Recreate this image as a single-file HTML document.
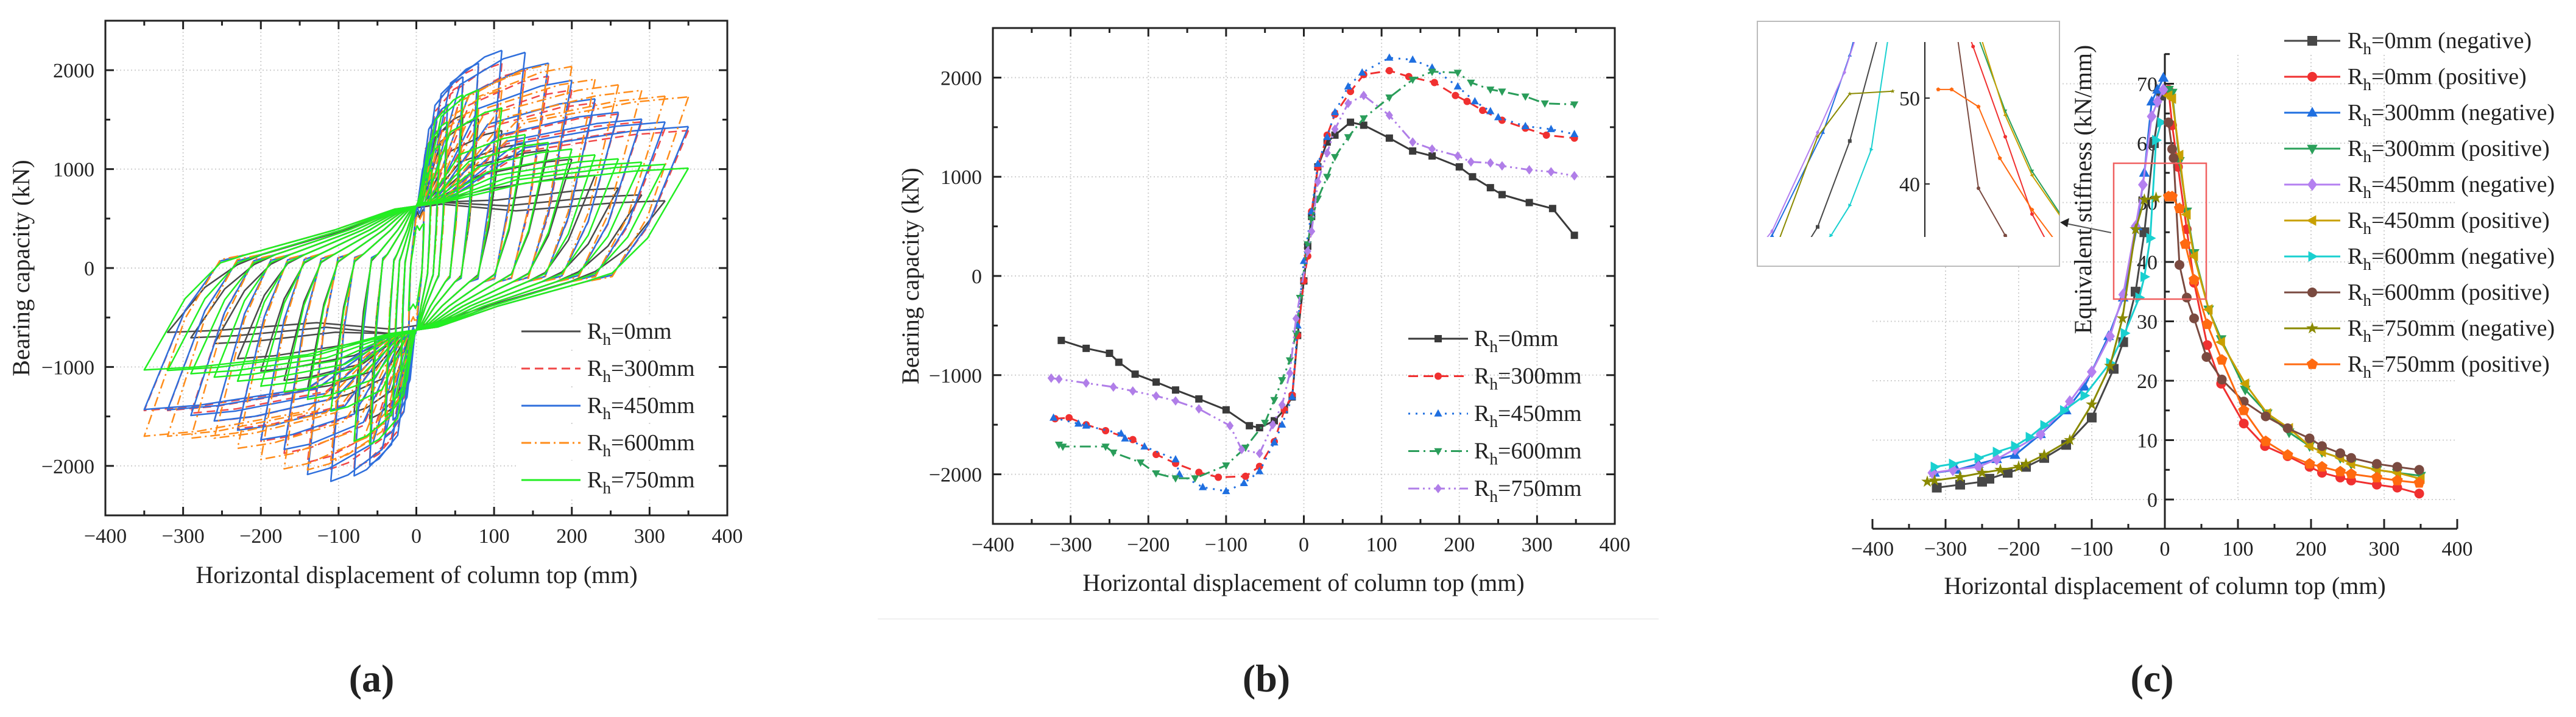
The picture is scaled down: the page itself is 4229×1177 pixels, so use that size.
<!DOCTYPE html>
<html><head><meta charset="utf-8">
<style>
html,body{margin:0;padding:0;background:#fff;}
svg{display:block;font-family:"Liberation Serif",serif;}
</style></head>
<body>
<svg id="fig" width="4229" height="1177" viewBox="0 0 4229 1177" xmlns="http://www.w3.org/2000/svg">
<rect x="0" y="0" width="4229" height="1177" fill="#fff"/>
<g id="pa"></g>
<g id="pb"></g>
<g id="pc"></g>
</svg>
<script>
// ---------- DATA: panel b skeleton curves ----------
const b0x=[-312,-280,-250,-238,-217,-190,-165,-135,-100,-70,-57,-38,-25,-15,-8,0,5,10,18,30,40,60,77,110,140,165,200,217,240,255,290,320,348];
const b0y=[-650,-730,-780,-870,-990,-1070,-1150,-1240,-1350,-1510,-1530,-1460,-1350,-1220,-600,-50,300,600,1100,1350,1420,1550,1520,1390,1260,1210,1100,1000,890,820,740,680,410];
const b300x=[-320,-302,-280,-255,-220,-190,-165,-135,-110,-75,-57,-38,-25,-15,-8,0,5,10,18,30,40,60,77,110,135,168,195,210,230,255,285,312,348];
const b300y=[-1440,-1430,-1500,-1560,-1650,-1800,-1890,-1980,-2030,-2020,-1920,-1670,-1350,-1200,-600,-50,200,650,1100,1420,1630,1860,2030,2070,2010,1950,1820,1760,1670,1570,1490,1420,1390];
const b450x=[-322,-290,-280,-235,-230,-205,-165,-160,-130,-100,-77,-57,-38,-28,-15,-8,0,10,18,30,40,57,75,110,140,165,198,220,240,250,285,318,348];
const b450y=[-1430,-1490,-1510,-1590,-1640,-1720,-1850,-2000,-2130,-2170,-2090,-1970,-1680,-1500,-1220,-500,150,650,1130,1400,1650,1910,2050,2200,2180,2100,1910,1760,1660,1600,1510,1480,1430];
const b600x=[-315,-310,-255,-245,-210,-190,-165,-140,-100,-75,-50,-38,-28,-18,-10,-5,5,10,18,30,40,57,77,110,140,165,198,215,240,255,285,310,348];
const b600y=[-1700,-1720,-1720,-1780,-1880,-1990,-2040,-2040,-1910,-1730,-1480,-1250,-1050,-850,-580,-220,320,570,780,1000,1200,1400,1590,1800,1980,2060,2050,1950,1880,1860,1810,1740,1730];
const b750x=[-325,-315,-280,-245,-220,-190,-165,-135,-95,-80,-57,-40,-28,-18,-10,5,10,18,30,40,57,77,110,140,165,198,215,240,255,290,318,348];
const b750y=[-1030,-1040,-1080,-1120,-1160,-1210,-1260,-1340,-1510,-1750,-1790,-1500,-1300,-980,-430,250,450,950,1240,1480,1740,1820,1620,1350,1280,1210,1150,1140,1110,1070,1050,1010];
const xTicks=[-400,-300,-200,-100,0,100,200,300,400];
const yTicksAB=[-2000,-1000,0,1000,2000];
const legendLabels=["0mm","300mm","450mm","600mm","750mm"];
// ---------- DATA: panel a cycle amplitudes ----------
const aAmps=[10,20,30,40,60,80,110,140,170,200,230,260,290,320,350];
// ---------- DATA: panel c stiffness ----------
const c0nx=[-312,-280,-250,-240,-215,-190,-165,-135,-100,-70,-57,-40,-28,-15,-5];
const c0ny=[2,2.5,3,3.5,4.5,5.5,7,9.2,13.8,22,26.5,35,45,60,68];
const c0px=[5,10,18,30,40,58,77,108,137,168,198,215,240,255,290,318,348];
const c0py=[69,63,56,45.5,36.5,26,19.5,12.8,9,7.3,5.5,4.5,3.7,3.2,2.5,2,1];
const c300nx=[-315,-285,-255,-230,-205,-170,-135,-110,-77,-57,-38,-28,-18,-10,-2];
const c300ny=[4.5,5,6,6.8,7.5,11,15,19,27.5,34,46,55,67,69,71];
const c300px=[5,10,20,30,40,60,77,110,140,170,198,215,240,255,290,318,350];
const c300py=[69,68.5,57,48.5,41.5,32,27,18.5,14.5,11.3,9,8,7,6,5,4.5,4];
const c450nx=[-318,-290,-255,-230,-205,-170,-130,-100,-75,-57,-40,-30,-18,-10,-2];
const c450ny=[4.5,5,5.5,6.8,8.5,11,16.5,21.5,27.5,34.5,46,53,64.5,67,69];
const c450px=[5,10,20,30,40,60,77,110,140,170,198,215,240,255,290,318,350];
const c450py=[68,67.5,58,48,41,32,26.5,19.5,14.5,12,9,8,7,6,5,4.5,3.5];
const c600nx=[-315,-290,-255,-230,-205,-185,-165,-138,-110,-75,-55,-35,-28,-20,-12,-5];
const c600ny=[5.5,6,7,8,9,10.5,12.5,15,17.5,23,28,34,37.5,44,60.5,63.5];
const c600px=[5,10,12,20,30,40,57,78,108,138,168,198,215,240,255,290,318,348];
const c600py=[63.5,59,57.5,39.5,34,30.5,24,20.2,16.5,14,12,10.3,9,7.8,7,6,5.5,5];
const c750nx=[-325,-315,-280,-250,-225,-200,-190,-165,-130,-100,-75,-58,-40,-28,-12];
const c750ny=[3,3.2,3.8,4.5,5,5.5,6,7.5,10,16,22.5,30.5,45.5,50.5,50.8];
const c750px=[5,10,20,28,40,58,78,108,138,168,198,215,240,255,290,318,348];
const c750py=[51,51,49,43,37,29.5,23.5,15,9.8,7.5,6,5.5,4.7,4.3,3.7,3.2,2.8];
const cYTicks=[0,10,20,30,40,50,60,70];
const cLegend=["0mm (negative)","0mm (positive)","300mm (negative)","300mm (positive)","450mm (negative)","450mm (positive)","600mm (negative)","600mm (positive)","750mm (negative)","750mm (positive)"];

const NS="http://www.w3.org/2000/svg";
function mk(parent,tag,attrs){const e=document.createElementNS(NS,tag);for(const k in attrs)e.setAttribute(k,attrs[k]);parent.appendChild(e);return e;}
function txt(parent,x,y,s,size,anchor,extra){const t=mk(parent,"text",Object.assign({x:x,y:y,"font-size":size,"text-anchor":anchor||"middle",fill:"#222"},extra||{}));t.textContent=s;return t;}
function rhText(parent,x,y,rest,size){
  const t=mk(parent,"text",{x:x,y:y,"font-size":size,fill:"#222"});
  const a=mk(t,"tspan",{});a.textContent="R";
  const b=mk(t,"tspan",{dy:10,"font-size":size*0.72});b.textContent="h";
  const c=mk(t,"tspan",{dy:-10});c.textContent="="+rest;
  return t;
}
function marker(g,type,x,y,r,color){
  let e;
  if(type==="sq") e=mk(g,"rect",{x:x-r,y:y-r,width:2*r,height:2*r,fill:color});
  else if(type==="ci") e=mk(g,"circle",{cx:x,cy:y,r:r,fill:color});
  else if(type==="tu") e=mk(g,"polygon",{points:`${x},${y-r*1.2} ${x-r*1.1},${y+r*0.8} ${x+r*1.1},${y+r*0.8}`,fill:color});
  else if(type==="td") e=mk(g,"polygon",{points:`${x},${y+r*1.2} ${x-r*1.1},${y-r*0.8} ${x+r*1.1},${y-r*0.8}`,fill:color});
  else if(type==="tl") e=mk(g,"polygon",{points:`${x-r*1.2},${y} ${x+r*0.8},${y-r*1.1} ${x+r*0.8},${y+r*1.1}`,fill:color});
  else if(type==="tr") e=mk(g,"polygon",{points:`${x+r*1.2},${y} ${x-r*0.8},${y-r*1.1} ${x-r*0.8},${y+r*1.1}`,fill:color});
  else if(type==="di") e=mk(g,"polygon",{points:`${x},${y-r*1.3} ${x+r},${y} ${x},${y+r*1.3} ${x-r},${y}`,fill:color});
  else if(type==="st"){let p=[];for(let i=0;i<10;i++){const a=-Math.PI/2+i*Math.PI/5,rr=i%2?r*0.5:r*1.3;p.push((x+rr*Math.cos(a)).toFixed(1)+","+(y+rr*Math.sin(a)).toFixed(1));}e=mk(g,"polygon",{points:p.join(" "),fill:color});}
  else if(type==="pe"){let p=[];for(let i=0;i<5;i++){const a=-Math.PI/2+i*2*Math.PI/5;p.push((x+r*1.2*Math.cos(a)).toFixed(1)+","+(y+r*1.2*Math.sin(a)).toFixed(1));}e=mk(g,"polygon",{points:p.join(" "),fill:color});}
  
  
  return e;
}
function series(g,xs,ys,sx,sy,color,dash,mtype,r,w,name){
  const sg=mk(g,"g",{});
  
  
  const pts=xs.map((x,i)=>sx(x).toFixed(1)+","+sy(ys[i]).toFixed(1)).join(" ");
  const pl=mk(sg,"polyline",{points:pts,fill:"none",stroke:color,"stroke-width":w,"stroke-dasharray":dash||"none","stroke-linejoin":"round"});
  
  
  if(mtype) xs.forEach((x,i)=>marker(sg,mtype,sx(x),sy(ys[i]),r,color));
}
function interp(xs,ys,x){
  if(x<=xs[0])return ys[0]; if(x>=xs[xs.length-1])return ys[ys.length-1];
  for(let i=1;i<xs.length;i++) if(x<=xs[i]){const t=(x-xs[i-1])/(xs[i]-xs[i-1]);return ys[i-1]+t*(ys[i]-ys[i-1]);}
}
function boxAxes(g,L,T,R,B,sx,sy,prefix){
  const grid=mk(g,"g",{});
  
  
  xTicks.forEach(v=>{if(v>-400&&v<400) mk(grid,"line",{x1:sx(v),x2:sx(v),y1:T,y2:B,stroke:"#cfcfcf","stroke-width":2,"stroke-dasharray":"2,4"});});
  yTicksAB.forEach(v=>mk(grid,"line",{x1:L,x2:R,y1:sy(v),y2:sy(v),stroke:"#cfcfcf","stroke-width":2,"stroke-dasharray":"2,4"}));
  const fr=mk(g,"rect",{x:L,y:T,width:R-L,height:B-T,fill:"none",stroke:"#222","stroke-width":3});
  
  
  const tk=mk(g,"g",{stroke:"#222","stroke-width":3});
  for(let v=-400;v<=400;v+=50){const len=v%100===0?14:8;const x=sx(v);
    mk(tk,"line",{x1:x,x2:x,y1:B,y2:B-len});mk(tk,"line",{x1:x,x2:x,y1:T,y2:T+len});}
  for(let v=-2500;v<=2500;v+=500){const len=v%1000===0?14:8;const y=sy(v);
    mk(tk,"line",{x1:L,x2:L+len,y1:y,y2:y});mk(tk,"line",{x1:R,x2:R-len,y1:y,y2:y});}
  const xl=mk(g,"g",{});
  
  
  xTicks.forEach(v=>txt(xl,sx(v),B+45,(v<0?"\u2212":"")+Math.abs(v),34));
  const yl=mk(g,"g",{});
  
  
  yTicksAB.forEach(v=>txt(yl,L-18,sy(v)+12,(v<0?"\u2212":"")+Math.abs(v),34,"end"));
}

// ---------- Panel A ----------
(function(){
  const g=document.getElementById("pa");
  const L=173,R=1194,T=34,B=846;
  const sx=v=>L+(v+400)/800*(R-L), sy=v=>T+(2500-v)/5000*(B-T);
  boxAxes(g,L,T,R,B,sx,sy,"panel-a");
  const defs=[[b0x,b0y,"#4a4a4a","none",320,"hysteresis-rh0"],[b300x,b300y,"#f04848","14,8",350,"hysteresis-rh300"],[b450x,b450y,"#2f6fdc","none",350,"hysteresis-rh450"],[b600x,b600y,"#ff8c1a","16,6,3,6",350,"hysteresis-rh600"],[b750x,b750y,"#22ee22","none",350,"hysteresis-rh750"]];
  defs.forEach(d=>{
    const [xs,ys,col,dash,amax,name]=d;
    const sg=mk(g,"g",{});
    
    
    aAmps.filter(a=>a<=amax).forEach(A=>{
      const Fp=interp(xs,ys,A), Fn=interp(xs,ys,-A);
      const P=Math.min(Fp,700), N=Math.max(Fn,-700);
      const p=[[A,Fp],[0.85*A,0.3*Fp],[0.72*A,-0.05*Fp],[0.62*A,-0.2*P],[0.3*A,-0.55*P],[0.08*A,N*0.85],
               [-0.1*A,N*0.95],[-0.4*A,Fn*0.85],[-0.8*A,Fn*0.97],[-A,Fn],
               [-0.85*A,0.3*Fn],[-0.72*A,-0.05*Fn],[-0.62*A,0.2*P],[-0.3*A,0.55*P],[-0.08*A,P*0.85],
               [0.1*A,P*0.95],[0.4*A,Fp*0.85],[0.8*A,Fp*0.97],[A,Fp]];
      let dstr="M"+sx(p[0][0]).toFixed(1)+","+sy(p[0][1]).toFixed(1);
      for(let i=1;i<p.length;i++) dstr+=" L"+sx(p[i][0]).toFixed(1)+","+sy(p[i][1]).toFixed(1);
      const e=mk(sg,"path",{d:dstr,fill:"none",stroke:col,"stroke-width":2.5,"stroke-dasharray":dash,"stroke-linejoin":"round"});
      
      
    });
  });
  const lg=mk(g,"g",{});
  
  
  const cols=["#4a4a4a","#f04848","#2f6fdc","#ff8c1a","#22ee22"],dashes=["none","14,8","none","16,6,3,6","none"];
  legendLabels.forEach((s,i)=>{const y=544+i*61;
    mk(lg,"rect",{x:850,y:y-28,width:330,height:56,fill:"#fff"});
    mk(lg,"line",{x1:856,x2:953,y1:y,y2:y,stroke:cols[i],"stroke-width":3,"stroke-dasharray":dashes[i]});
    rhText(lg,964,y+12,s,38);});
  const yt=txt(g,0,0,"Bearing capacity (kN)",40,"middle",{transform:"translate(48,440) rotate(-90)"});
  
  const xt=txt(g,684,957,"Horizontal displacement of column top (mm)",40);
  
  const cap=txt(g,610,1135,"(a)",64,"middle",{"font-weight":"bold"});
  
})();

// ---------- Panel B ----------
(function(){
  const g=document.getElementById("pb");
  const L=1630,R=2651,T=46,B=860;
  const sx=v=>L+(v+400)/800*(R-L), sy=v=>T+(2500-v)/5000*(B-T);
  boxAxes(g,L,T,R,B,sx,sy,"panel-b");
  const cols=["#3a3a3a","#f03030","#1f6fe0","#2a9d5a","#b07ee8"];
  const dashes=["none","16,9","3,9","18,7,3,7","18,6,3,6,3,6"];
  const mks=["sq","ci","tu","td","di"];
  const sets=[[b0x,b0y],[b300x,b300y],[b450x,b450y],[b600x,b600y],[b750x,b750y]];
  sets.forEach((s,i)=>series(g,s[0],s[1],sx,sy,cols[i],dashes[i],mks[i],6,3,"skeleton-rh"+legendLabels[i].replace("mm","")));
  const lg=mk(g,"g",{});
  
  
  legendLabels.forEach((s,i)=>{const y=556+i*61.5;
    mk(lg,"line",{x1:2312,x2:2410,y1:y,y2:y,stroke:cols[i],"stroke-width":3,"stroke-dasharray":dashes[i]});
    marker(lg,mks[i],2361,y,6,cols[i]);
    rhText(lg,2420,y+12,s,38);});
  mk(g,"line",{x1:1441,x2:2723,y1:1016,y2:1016,stroke:"#f0f0f0","stroke-width":2});
  const yt=txt(g,0,0,"Bearing capacity (kN)",40,"middle",{transform:"translate(1508,453) rotate(-90)"});
  
  const xt=txt(g,2140,970,"Horizontal displacement of column top (mm)",40);
  
  const cap=txt(g,2079,1135,"(b)",64,"middle",{"font-weight":"bold"});
  
})();

// ---------- Panel C ----------
(function(){
  const g=document.getElementById("pc");
  const X0=3554, PX=1.2;
  const sx=v=>X0+v*PX, sy=v=>820-v*9.75;
  const grid=mk(g,"g",{stroke:"#d0d0d0","stroke-width":2,"stroke-dasharray":"2,4"});
  
  
  cYTicks.forEach(v=>mk(grid,"line",{x1:sx(-400),x2:sx(400),y1:sy(v),y2:sy(v)}));
  xTicks.forEach(v=>{if(v!==0&&v>-400&&v<400)mk(grid,"line",{x1:sx(v),x2:sx(v),y1:90,y2:sy(0)});});
  const ax=mk(g,"g",{stroke:"#222","stroke-width":3});
  
  
  mk(ax,"line",{x1:sx(-400),x2:sx(400),y1:868,y2:868});
  mk(ax,"line",{x1:X0,x2:X0,y1:88,y2:868});
  for(let v=-400;v<=400;v+=50){const len=v%100===0?16:8;mk(ax,"line",{x1:sx(v),x2:sx(v),y1:868,y2:868-len});}
  for(let v=0;v<=75;v+=5){const len=v%10===0?15:8;mk(ax,"line",{x1:X0,x2:X0+len,y1:sy(v),y2:sy(v)});}
  const xl=mk(g,"g",{});
  
  
  xTicks.forEach(v=>txt(xl,sx(v),912,(v<0?"\u2212":"")+Math.abs(v),34));
  const yl=mk(g,"g",{});
  
  
  cYTicks.forEach(v=>txt(yl,X0-12,sy(v)+12,String(v),34,"end"));
  const cols=["#474747","#f03030","#1f6fe0","#2aa05a","#b480f0","#c8a000","#19d0d0","#7a4a40","#8a8a00","#ff6a10"];
  const mks=["sq","ci","tu","td","di","tl","tr","ci","st","pe"];
  const sets=[[c0nx,c0ny],[c0px,c0py],[c300nx,c300ny],[c300px,c300py],[c450nx,c450ny],[c450px,c450py],[c600nx,c600ny],[c600px,c600py],[c750nx,c750ny],[c750px,c750py]];
  sets.forEach((s,i)=>series(g,s[0],s[1],sx,sy,cols[i],"none",mks[i],8,3,"stiffness-"+cLegend[i].replace(/[ ()]+/g,"-").replace(/-$/,"")));
  const rr=mk(g,"rect",{x:3470,y:268,width:152,height:223,fill:"none",stroke:"#f06060","stroke-width":2.5});
  
  
  const ins=mk(g,"g",{});
  
  
  const defs=document.createElementNS(NS,"defs");g.appendChild(defs);
  const cp=mk(defs,"clipPath",{id:"insclip"});mk(cp,"rect",{x:2885,y:69,width:496,height:320});
  mk(ins,"rect",{x:2885,y:35,width:496,height:402,fill:"#fff",stroke:"#bbb","stroke-width":2});
  const isx=v=>3160+v*4.4, isy=v=>161-(v-50)*14.1;
  const ic=mk(ins,"g",{"clip-path":"url(#insclip)"});
  sets.forEach((s,i)=>series(ic,s[0],s[1],isx,isy,cols[i],"none",mks[i],3,2,"inset-series"));
  mk(ins,"line",{x1:3160,x2:3160,y1:69,y2:389,stroke:"#222","stroke-width":2});
  [40,50].forEach(v=>{mk(ins,"line",{x1:3160,x2:3168,y1:isy(v),y2:isy(v),stroke:"#222","stroke-width":2});txt(ins,3152,isy(v)+12,String(v),34,"end");});
  const ar=mk(g,"path",{d:"M3466,382 L3392,367",stroke:"#555","stroke-width":2,fill:"none"});
  
  
  mk(g,"polygon",{points:"3382,365 3397,358 3394,373",fill:"#222"});
  const lg=mk(g,"g",{});
  
  
  cLegend.forEach((s,i)=>{const y=67+i*59;
    mk(lg,"line",{x1:3750,x2:3842,y1:y,y2:y,stroke:cols[i],"stroke-width":3});
    marker(lg,mks[i],3796,y,8,cols[i]);
    rhText(lg,3854,y+12,s,38);});
  const yt=txt(g,0,0,"Equivalent stiffness (kN/mm)",40,"middle",{transform:"translate(3433,311) rotate(-90)"});
  
  const xt=txt(g,3554,975,"Horizontal displacement of column top (mm)",40);
  
  const cap=txt(g,3533,1135,"(c)",64,"middle",{"font-weight":"bold"});
  
})();
</script>
</body></html>
